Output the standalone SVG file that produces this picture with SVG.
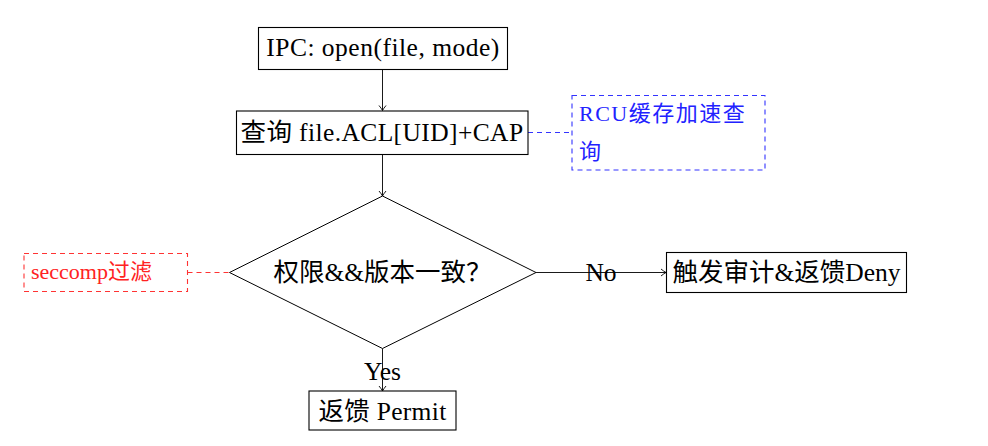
<svg xmlns="http://www.w3.org/2000/svg" width="988" height="446" viewBox="0 0 988 446">
<style>
.box{fill:#fff;stroke:#000;stroke-width:1.1}
.t{font-family:"Liberation Serif","Noto Sans CJK SC",serif;font-size:25.5px;fill:#000;text-anchor:middle}
.edge{fill:none;stroke:#000;stroke-width:0.9}
.blue{fill:none;stroke:#3333ff;stroke-width:1.1;stroke-dasharray:5,4}
.red{fill:none;stroke:#ff3333;stroke-width:1.1;stroke-dasharray:5,4}
</style>
<defs>
<marker id="arr" viewBox="-6 -5 7 10" markerWidth="7" markerHeight="10" refX="0" refY="0" orient="auto" markerUnits="userSpaceOnUse">
<path d="M-5,-3.5 Q-2,-1 0,0 Q-2,1 -5,3.5" fill="none" stroke="#000" stroke-width="0.9"/>
</marker>
</defs>
<g id="connectors">
<line class="edge" x1="382.5" y1="69.5" x2="382.5" y2="110.5" marker-end="url(#arr)"/>
<line class="edge" x1="382.5" y1="154.5" x2="382.5" y2="196" marker-end="url(#arr)"/>
<line class="edge" x1="536" y1="272.5" x2="666" y2="272.5" marker-end="url(#arr)"/>
<line class="edge" x1="382.5" y1="348.5" x2="382.5" y2="391" marker-end="url(#arr)"/>
<line class="blue" x1="528" y1="132.5" x2="572" y2="132.5"/>
<line class="red" x1="187.5" y1="272.5" x2="229.5" y2="272.5"/>
<text class="t" x="601" y="281">No</text>
<text class="t" x="382.5" y="380">Yes</text>
</g>
<g id="n1">
<rect class="box" x="258.5" y="27.5" width="249" height="42"/>
<text class="t" x="383" y="56" letter-spacing="0.5">IPC: open(file, mode)</text>
</g>
<g id="n2">
<rect class="box" x="236.5" y="111" width="291.5" height="43.5"/>
<text class="t" x="382" y="141" letter-spacing="0.4">查询 file.ACL[UID]+CAP</text>
</g>
<g id="n3">
<polygon points="382.5,196 536,272.5 382.5,348.5 229.5,272.5" fill="#fff" stroke="#000" stroke-width="1"/>
<text class="t" x="382.5" y="281">权限&amp;&amp;版本一致？</text>
</g>
<g id="n4">
<rect class="box" x="666.5" y="252.5" width="240" height="40"/>
<text class="t" x="786.5" y="281">触发审计&amp;返馈Deny</text>
</g>
<g id="n5">
<rect class="box" x="309" y="391" width="147" height="39"/>
<text class="t" x="382.5" y="420" letter-spacing="0.3">返馈 Permit</text>
</g>
<g id="note1">
<rect class="blue" x="572" y="95.5" width="193" height="74.5"/>
<text font-family="Liberation Serif, Noto Sans CJK SC, serif" font-size="22" fill="#2222ff" x="579" y="121" letter-spacing="1.5">RCU缓存加速查</text>
<text font-family="Liberation Serif, Noto Sans CJK SC, serif" font-size="22" fill="#2222ff" x="579" y="159">询</text>
</g>
<g id="note2">
<rect class="red" x="24" y="253.5" width="163.5" height="38"/>
<text font-family="Liberation Serif, Noto Sans CJK SC, serif" font-size="22" fill="#ff2222" x="31" y="279">seccomp过滤</text>
</g>
</svg>
